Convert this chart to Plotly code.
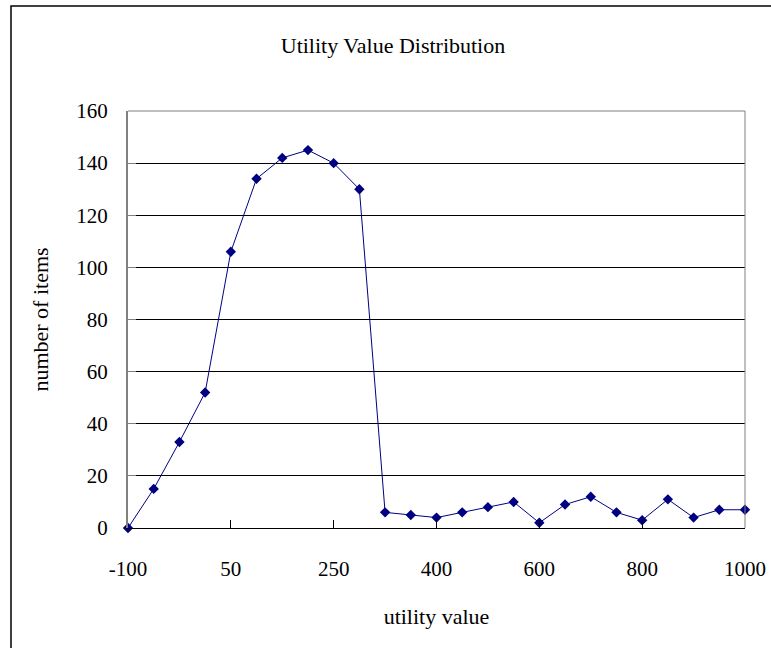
import plotly.graph_objects as go

# Category labels (25 equally spaced categories; only some are labelled)
categories = ["-100", "-75", "-50", "0", "50", "100", "150", "200", "250",
              "300", "325", "350", "400", "450", "500", "550", "600", "650",
              "700", "750", "800", "850", "900", "950", "1000"]
counts = [0, 15, 33, 52, 106, 134, 142, 145, 140, 130, 6, 5, 4, 6, 8, 10,
          2, 9, 12, 6, 3, 11, 4, 7, 7]
tick_labels = ["-100", "50", "250", "400", "600", "800", "1000"]
y_ticks = [0, 20, 40, 60, 80, 100, 120, 140, 160]

FONT = "Liberation Serif"

fig = go.Figure()
fig.add_trace(go.Scatter(
    x=categories, y=counts, mode="lines+markers",
    line=dict(color="#000080", width=1),
    marker=dict(symbol="diamond", size=8, color="#000080"),
    showlegend=False, cliponaxis=False,
))

L, R, T, B = 128, 26, 111, 120
W, H = 771, 648
pw = W - L - R
ph = H - T - B

fig.update_layout(
    width=W, height=H,
    margin=dict(l=L, r=R, t=T, b=B, autoexpand=False),
    paper_bgcolor="white", plot_bgcolor="white",
    font=dict(family=FONT, color="black", size=20),
    title=dict(text="Utility Value Distribution", x=393 / W, xanchor="center",
               y=1 - 45 / H, yanchor="middle",
               font=dict(family=FONT, size=22, color="black")),
    xaxis=dict(
        type="category", categoryorder="array", categoryarray=categories,
        range=[0, len(categories) - 1], automargin=False,
        tickmode="array", tickvals=tick_labels, ticktext=tick_labels,
        ticks="inside", ticklen=8, tickcolor="black",
        ticklabelstandoff=22,
        showgrid=False, showline=True, linecolor="black", linewidth=1,
        mirror=False, zeroline=False,
        tickfont=dict(family=FONT, size=21),
        title=dict(text="utility value", font=dict(family=FONT, size=22), standoff=28),
    ),
    yaxis=dict(
        range=[0, 160], tickvals=y_ticks, automargin=False,
        ticks="inside", ticklen=8, tickcolor="#808080",
        ticklabelstandoff=14,
        showgrid=True, gridcolor="black", gridwidth=1,
        showline=True, linecolor="#808080", linewidth=2, zeroline=False,
        tickfont=dict(family=FONT, size=21),
        title=dict(text="number of items", font=dict(family=FONT, size=22), standoff=22),
    ),
    shapes=[
        # plot area frame (top and right)
        dict(type="line", xref="paper", yref="paper", x0=0, x1=1, y0=1, y1=1,
             line=dict(color="#808080", width=1)),
        dict(type="line", xref="paper", yref="paper", x0=1, x1=1, y0=0, y1=1,
             line=dict(color="#808080", width=1)),
        # outer chart border
        dict(type="rect", xref="paper", yref="paper",
             x0=(11 - L) / pw, x1=(W + 5 - L) / pw,
             y0=(H - B - (H + 5)) / ph, y1=(H - B - 6) / ph,
             line=dict(color="black", width=1.5), layer="below"),
    ],
)

fig.write_html("out.html")
